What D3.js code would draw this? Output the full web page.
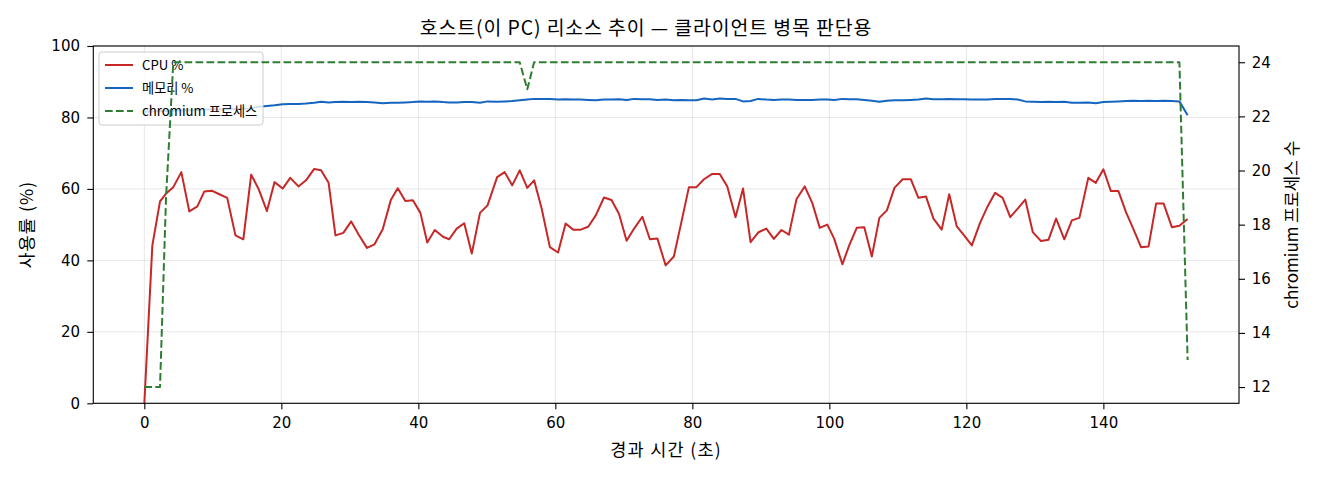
<!DOCTYPE html>
<html><head><meta charset="utf-8">
<script src="https://cdn.jsdelivr.net/npm/d3@7"></script>
<style>
html,body{margin:0;padding:0;background:#fff;}
text{font-family:"Noto Sans CJK KR","DejaVu Sans",sans-serif;fill:#000;}
.tick text{font-family:"DejaVu Sans","Noto Sans CJK KR",sans-serif;}
</style></head>
<body><svg id="chart" width="1320" height="480"></svg>
<script>
const times = [0,1.17,2.29,3.17,4.23,5.4,6.57,7.74,8.76,9.83,
10.95,12.1,13.3,14.45,15.6,16.7,17.9,19.0,20.2,21.3,
22.5,23.6,24.8,25.8,26.9,27.9,29.05,30.2,31.3,32.5,
33.6,34.8,36.0,37.0,38.1,39.2,40.3,41.3,42.4,43.6,
44.5,45.6,46.7,47.8,49.0,50.1,51.5,52.6,53.7,54.8,
55.9,56.9,58.0,59.2,60.4,61.5,62.6,63.7,64.8,65.9,
67.1,68.2,69.3,70.4,71.5,72.7,73.8,74.9,76.1,77.3,
78.4,79.5,80.6,81.7,82.9,84.0,85.1,86.3,87.4,88.5,
89.6,90.8,91.9,93.0,94.1,95.2,96.4,97.5,98.6,99.7,
100.7,101.9,102.9,104.0,105.1,106.2,107.3,108.4,109.5,110.7,
111.9,113.0,114.1,115.2,116.4,117.5,118.6,119.7,120.8,122.0,
123.1,124.2,125.3,126.4,127.5,128.6,129.7,130.9,132.0,133.1,
134.3,135.4,136.5,137.8,138.9,140.0,141.1,142.2,143.3,144.4,
145.5,146.6,147.7,148.8,150.0,151.1,152.3];

const cpuPct = [0,44.2,56.5,58.7,60.5,64.7,53.7,55.1,59.3,59.5,
58.5,57.5,47.0,45.9,64.0,59.9,53.8,61.9,60.1,63.1,
60.7,62.4,65.6,65.2,61.7,47.0,47.7,50.9,47.2,43.5,
44.5,48.7,57.0,60.2,56.6,56.8,53.3,45.0,48.5,46.6,
45.9,48.9,50.4,41.9,53.3,55.4,63.3,64.7,61.0,65.2,
60.3,62.4,54.5,43.7,42.2,50.3,48.6,48.6,49.4,52.6,
57.6,56.9,53.0,45.5,48.9,52.2,45.9,46.1,38.6,41.1,
50.7,60.5,60.5,62.7,64.2,64.2,60.7,52.1,60.1,45.1,
47.8,48.9,46.0,48.5,47.2,57.1,60.7,56.1,49.1,50.0,
46.1,38.9,44.2,49.1,49.3,41.1,51.9,54.0,60.3,62.7,
62.7,57.5,57.9,51.7,48.6,58.5,49.5,46.9,44.2,50.5,
55.1,58.9,57.5,52.1,54.5,57.0,47.9,45.4,45.8,51.7,
45.9,51.2,51.9,63.1,61.7,65.5,59.4,59.4,53.5,48.7,
43.7,43.9,55.9,55.9,49.3,49.7,51.6];

const memPct = [81.6,81.7,81.8,81.8,81.9,82.0,82.0,82.1,82.2,82.2,
82.3,82.3,82.4,82.5,82.6,83.0,83.2,83.4,83.7,83.8,
83.8,83.9,84.1,84.4,84.2,84.3,84.4,84.3,84.4,84.3,
84.2,84.0,84.1,84.1,84.2,84.3,84.5,84.4,84.5,84.3,
84.2,84.2,84.3,84.3,84.1,84.5,84.4,84.5,84.6,84.8,
85.0,85.2,85.2,85.2,85.0,85.1,85.0,85.0,84.9,84.8,
85.0,85.0,85.1,84.9,85.2,85.1,85.1,84.9,85.0,84.8,
84.9,84.8,84.8,85.3,85.0,85.3,85.2,85.2,84.5,84.6,
85.2,85.0,84.9,85.0,85.0,84.9,84.9,84.9,85.0,85.0,
84.9,85.2,85.1,85.1,84.9,84.7,84.4,84.7,84.8,84.8,
84.9,85.0,85.3,85.1,85.1,85.2,85.1,85.1,85.0,85.0,
85.0,85.2,85.2,85.2,85.0,84.5,84.4,84.3,84.4,84.3,
84.4,84.1,84.1,84.2,84.0,84.3,84.4,84.5,84.6,84.7,
84.6,84.7,84.6,84.7,84.6,84.5,80.6];

const chromiumProcs = [12,12,12,19,24,24,24,24,24,24,
24,24,24,24,24,24,24,24,24,24,
24,24,24,24,24,24,24,24,24,24,
24,24,24,24,24,24,24,24,24,24,
24,24,24,24,24,24,24,24,24,24,
23,24,24,24,24,24,24,24,24,24,
24,24,24,24,24,24,24,24,24,24,
24,24,24,24,24,24,24,24,24,24,
24,24,24,24,24,24,24,24,24,24,
24,24,24,24,24,24,24,24,24,24,
24,24,24,24,24,24,24,24,24,24,
24,24,24,24,24,24,24,24,24,24,
24,24,24,24,24,24,24,24,24,24,
24,24,24,24,24,24,13];

const xTicks = [0,20,40,60,80,100,120,140];
const yLeftTicks = [0,20,40,60,80,100];
const yRightTicks = [12,14,16,18,20,22,24];

const titleText = "호스트(이 PC) 리소스 추이 — 클라이언트 병목 판단용";
const xLabel = "경과 시간 (초)";
const yLeftLabel = "사용률 (%)";
const yRightLabel = "chromium 프로세스 수";
const legendLabels = ["CPU %", "메모리 %", "chromium 프로세스"];

const L = 93.3, R = 1239, T = 46, B = 403.3;
const svg = d3.select("#chart");
svg.append("rect").attr("width",1320).attr("height",480).attr("fill","#fff");

const x = d3.scaleLinear().domain([-7.45, 159.8]).range([L, R]);
const yL = d3.scaleLinear().domain([0, 100]).range([B, T]);
const yR = d3.scaleLinear().domain([11.4, 24.6]).range([B, T]);

// grid
const grid = svg.append("g");
grid.selectAll(".gx").data(xTicks).join("line")
  .attr("x1", d=>x(d)).attr("x2", d=>x(d)).attr("y1", T).attr("y2", B)
  .attr("stroke","#b0b0b0").attr("stroke-opacity",0.3).attr("stroke-width",1);
grid.selectAll(".gy").data(yLeftTicks).join("line")
  .attr("x1", L).attr("x2", R).attr("y1", d=>yL(d)).attr("y2", d=>yL(d))
  .attr("stroke","#b0b0b0").attr("stroke-opacity",0.3).attr("stroke-width",1);

const idx = d3.range(times.length);
const lineCpu = d3.line().x(i=>x(times[i])).y(i=>yL(cpuPct[i]));
const lineMem = d3.line().x(i=>x(times[i])).y(i=>yL(memPct[i]));
const lineChr = d3.line().x(i=>x(times[i])).y(i=>yR(chromiumProcs[i]));

const COL_CPU = "#c62828", COL_MEM = "#1565c0", COL_CHR = "#2e7d32";

svg.append("path").attr("d", lineCpu(idx)).attr("fill","none")
  .attr("stroke",COL_CPU).attr("stroke-width",2).attr("stroke-linejoin","round");
svg.append("path").attr("d", lineMem(idx)).attr("fill","none")
  .attr("stroke",COL_MEM).attr("stroke-width",2).attr("stroke-linejoin","round");

// legend (belongs to left axis, below twin-axis line)
const lg = svg.append("g");
lg.append("rect").attr("x",99).attr("y",52).attr("width",164).attr("height",73)
  .attr("rx",3).attr("fill","#fff").attr("fill-opacity",0.8)
  .attr("stroke","#cccccc").attr("stroke-width",1);
const lgRows = [
  {y:65, c:COL_CPU, dash:null},
  {y:88, c:COL_MEM, dash:null},
  {y:111, c:COL_CHR, dash:"7.7,3.3"}
];
lgRows.forEach((r,i)=>{
  lg.append("line").attr("x1",105).attr("x2",133).attr("y1",r.y).attr("y2",r.y)
    .attr("stroke",r.c).attr("stroke-width",2).attr("stroke-dasharray",r.dash);
  lg.append("text").attr("x",142).attr("y",r.y).attr("dy","0.36em")
    .attr("font-size","13.2px").text(legendLabels[i]);
});

svg.append("path").attr("d", lineChr(idx)).attr("fill","none")
  .attr("stroke",COL_CHR).attr("stroke-width",2).attr("stroke-dasharray","7.7,3.3")
  .attr("stroke-linejoin","round");

// axes
const ax = svg.append("g").attr("transform",`translate(0,${B})`)
  .call(d3.axisBottom(x).tickValues(xTicks).tickSize(6).tickPadding(8.5).tickFormat(d3.format("d")));
const ayl = svg.append("g").attr("transform",`translate(${L},0)`)
  .call(d3.axisLeft(yL).tickValues(yLeftTicks).tickSize(6).tickPadding(7.3).tickFormat(d3.format("d")));
const ayr = svg.append("g").attr("transform",`translate(${R},0)`)
  .call(d3.axisRight(yR).tickValues(yRightTicks).tickSize(6).tickPadding(6.7).tickFormat(d3.format("d")));
[ax,ayl,ayr].forEach(g=>{
  g.select(".domain").remove();
  g.selectAll(".tick line").attr("stroke","#000").attr("stroke-width",1.1);
  g.selectAll(".tick text").attr("font-size","15px").attr("font-family",null).attr("fill","#000");
});

// spines
svg.append("rect").attr("x",L).attr("y",T).attr("width",R-L).attr("height",B-T)
  .attr("fill","none").attr("stroke","#000").attr("stroke-width",1.1);

// texts
svg.append("text").attr("x",646).attr("y",28).attr("dy","0.36em")
  .attr("text-anchor","middle").attr("font-size","19.4px").attr("letter-spacing","0.9px").text(titleText);
svg.append("text").attr("x",(L+R)/2).attr("y",450).attr("dy","0.36em")
  .attr("text-anchor","middle").attr("font-size","17.5px").attr("letter-spacing","1.3px").text(xLabel);
svg.append("text").attr("transform",`translate(27,${(T+B)/2}) rotate(-90)`)
  .attr("dy","0.36em").attr("text-anchor","middle").attr("font-size","17.5px").attr("letter-spacing","1.1px").text(yLeftLabel);
svg.append("text").attr("transform",`translate(1292,${(T+B)/2}) rotate(-90)`)
  .attr("dy","0.36em").attr("text-anchor","middle").attr("font-size","17px").text(yRightLabel);
</script></body></html>
